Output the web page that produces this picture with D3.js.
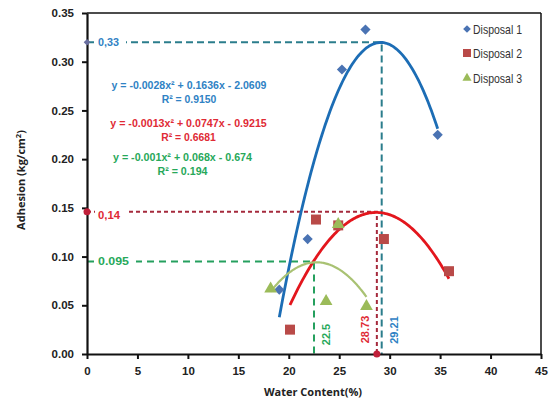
<!DOCTYPE html>
<html><head><meta charset="utf-8">
<script src="https://cdn.jsdelivr.net/npm/d3@7"></script>
<style>body{margin:0;background:#fff}</style>
</head><body><svg id="c" width="551" height="404"></svg>
<script>
const seriesNames = ["Disposal 1", "Disposal 2", "Disposal 3"];
const d1x = [19.06, 21.87, 25.27, 27.6, 34.76];
const d1y = [0.066, 0.118, 0.292, 0.333, 0.225];
const d2x = [20.12, 22.7, 24.9, 29.43, 35.88];
const d2y = [0.025, 0.138, 0.132, 0.118, 0.085];
const d3x = [18.2, 23.7, 24.9, 27.7];
const d3y = [0.067, 0.054, 0.133, 0.049];
const equations = ["y = -0.0028x² + 0.1636x - 2.0609", "y = -0.0013x² + 0.0747x - 0.9215", "y = -0.001x² + 0.068x - 0.674"];
const r2Labels = ["R² = 0.9150", "R² = 0.6681", "R² = 0.194"];
const peakX = [29.21, 28.73, 22.5];
const peakY = [0.32, 0.146, 0.095];
const peakYLabels = ["0,33", "0,14", "0.095"];
const peakXLabels = ["29.21", "28.73", "22.5"];
const xTicks = [0, 5, 10, 15, 20, 25, 30, 35, 40, 45];
const yTicks = [0, 0.05, 0.10, 0.15, 0.20, 0.25, 0.30, 0.35];

const svg = d3.select("#c");
const x = d3.scaleLinear().domain([0, 45]).range([87, 541]);
const y = d3.scaleLinear().domain([0, 0.35]).range([354, 13]);

const markerCol = ["#4a73b3", "#b94a48", "#9bbb59"];
const curveCol = ["#1c6db5", "#e3161d", "#a9c273"];
const dashCol = ["#2b7d8c", "#a52a3c", "#25a05e"];
const eqCol = ["#2f82c4", "#e02a35", "#27a85a"];

function fit2(xs, ys) {
  // least squares quadratic fit
  let S = [0,0,0,0,0], T = [0,0,0];
  xs.forEach((xv, i) => {
    for (let k = 0; k < 5; k++) S[k] += Math.pow(xv, k);
    for (let k = 0; k < 3; k++) T[k] += Math.pow(xv, k) * ys[i];
  });
  const A = [[S[0],S[1],S[2],T[0]],[S[1],S[2],S[3],T[1]],[S[2],S[3],S[4],T[2]]];
  for (let i = 0; i < 3; i++) {
    let p = i;
    for (let r = i+1; r < 3; r++) if (Math.abs(A[r][i]) > Math.abs(A[p][i])) p = r;
    [A[i], A[p]] = [A[p], A[i]];
    for (let r = 0; r < 3; r++) if (r !== i) {
      const f = A[r][i] / A[i][i];
      for (let c = i; c < 4; c++) A[r][c] -= f * A[i][c];
    }
  }
  return [A[0][3]/A[0][0], A[1][3]/A[1][1], A[2][3]/A[2][2]];
}

const data = [[d1x, d1y], [d2x, d2y], [d3x, d3y]];

// frame
svg.append("line").attr("x1", x(0)).attr("x2", x(45)).attr("y1", y(0.35)).attr("y2", y(0.35)).attr("stroke", "#111").attr("stroke-width", 1.5);
svg.append("line").attr("x1", x(45)).attr("x2", x(45)).attr("y1", y(0.35)).attr("y2", y(0)).attr("stroke", "#111").attr("stroke-width", 1.5);

// dashed guide lines
const dashes = ["7,4", "4,3", "7,5"];
peakX.forEach((px, i) => {
  svg.append("path")
    .attr("d", `M${x(0)},${y(peakY[i])}H${x(px)}V${y(0)}`)
    .attr("fill", "none").attr("stroke", dashCol[i]).attr("stroke-width", 2)
    .attr("stroke-dasharray", dashes[i]);
});

// axes
const gx = svg.append("g").attr("transform", `translate(0,${y(0)})`)
  .call(d3.axisBottom(x).tickValues(xTicks).tickSize(5).tickSizeOuter(0).tickPadding(8));
const gy = svg.append("g").attr("transform", `translate(${x(0)},0)`)
  .call(d3.axisLeft(y).tickValues(yTicks).tickFormat(d3.format(".2f")).tickSize(5).tickSizeOuter(0).tickPadding(8));
[gx, gy].forEach(g => {
  g.select(".domain").attr("stroke", "#111").attr("stroke-width", 2.2);
  g.selectAll(".tick line").attr("stroke", "#111").attr("stroke-width", 2);
  g.selectAll(".tick text").attr("fill", "#222").attr("font-family", "Liberation Sans, Arial, sans-serif")
    .attr("font-weight", "bold").attr("font-size", 11.5);
});

// trend curves
data.forEach(([xs, ys], i) => {
  const c = fit2(xs, ys);
  const lo = d3.min(xs), hi = d3.max(xs);
  const pts = d3.range(0, 101).map(k => { const xv = lo + (hi - lo) * k / 100; return [xv, c[0] + c[1]*xv + c[2]*xv*xv]; });
  svg.append("path").datum(pts)
    .attr("d", d3.line().x(d => x(d[0])).y(d => y(d[1])))
    .attr("fill", "none").attr("stroke", curveCol[i]).attr("stroke-width", i === 2 ? 2.2 : 2.8);
});

// markers (diamond = square rotated 45°)
const symTypes = [d3.symbolSquare, d3.symbolSquare, d3.symbolTriangle];
const symSizes = [52, 100, 70];
const symRot = [45, 0, 0];
data.forEach(([xs, ys], i) => {
  svg.append("g").selectAll("path").data(xs.map((xv, k) => [xv, ys[k]])).join("path")
    .attr("transform", d => `translate(${x(d[0])},${y(d[1])}) rotate(${symRot[i]})`)
    .attr("d", d3.symbol().type(symTypes[i]).size(symSizes[i]))
    .attr("fill", markerCol[i]);
});

// peak markers on axes
svg.append("path").attr("transform", `translate(${x(0)},${y(peakY[0])}) rotate(45)`)
  .attr("d", d3.symbol().type(d3.symbolSquare).size(22)).attr("fill", "#6a6fa0");
svg.append("circle").attr("cx", x(0)).attr("cy", y(peakY[1])).attr("r", 3.5).attr("fill", "#c0203a");
svg.append("circle").attr("cx", x(peakX[1])).attr("cy", y(0)).attr("r", 3.5).attr("fill", "#c0203a");

// y peak labels with white background
const yLabW = [21, 22, 31];
const yLabOff = [0, 3, 0];
peakYLabels.forEach((t, i) => {
  const yy = y(peakY[i]) + yLabOff[i];
  svg.append("rect").attr("x", x(0) + 8).attr("y", yy - 7).attr("width", yLabW[i] + 10).attr("height", 14).attr("fill", "#fff");
  svg.append("text").attr("x", x(0) + 11).attr("y", yy).attr("dy", "0.35em")
    .attr("font-family", "Liberation Sans, Arial, sans-serif").attr("font-weight", "bold").attr("font-size", 11)
    .attr("fill", eqCol[i]).attr("textLength", yLabW[i]).attr("lengthAdjust", "spacingAndGlyphs").text(t);
});

// x peak labels rotated
const xLabOff = [12.5, -12, 12.5];
const xLabCy = [330, 329.5, 334.5];
const xLabCol = ["#2f82c4", "#e02a35", "#27a85a"];
peakXLabels.forEach((t, i) => {
  svg.append("text").attr("transform", `translate(${x(peakX[i]) + xLabOff[i]},${xLabCy[i]}) rotate(-90)`)
    .attr("text-anchor", "middle").attr("dy", "0.35em")
    .attr("font-family", "Liberation Sans, Arial, sans-serif").attr("font-weight", "bold").attr("font-size", 11)
    .attr("fill", xLabCol[i]).text(t);
});

// equations
const eqCx = [189, 188.5, 182.5];
const eqCy = [85, 122.7, 156.7];
const eqW = [155, 156.5, 139];
const r2W = [54.5, 54.5, 50];
equations.forEach((t, i) => {
  svg.append("text").attr("x", eqCx[i]).attr("y", eqCy[i]).attr("dy", "0.35em").attr("text-anchor", "middle")
    .attr("font-family", "Liberation Sans, Arial, sans-serif").attr("font-weight", "bold").attr("font-size", 11)
    .attr("fill", eqCol[i]).attr("textLength", eqW[i]).attr("lengthAdjust", "spacingAndGlyphs").text(t);
  svg.append("text").attr("x", eqCx[i]).attr("y", eqCy[i] + 14.5).attr("dy", "0.35em").attr("text-anchor", "middle")
    .attr("font-family", "Liberation Sans, Arial, sans-serif").attr("font-weight", "bold").attr("font-size", 11)
    .attr("fill", eqCol[i]).attr("textLength", r2W[i]).attr("lengthAdjust", "spacingAndGlyphs").text(r2Labels[i]);
});

// legend
const legY = [29, 53, 78];
const legSym = [[d3.symbolSquare, 30, 45], [d3.symbolSquare, 64, 0], [d3.symbolTriangle, 36, 0]];
seriesNames.forEach((t, i) => {
  svg.append("path").attr("transform", `translate(467,${legY[i]}) rotate(${legSym[i][2]})`)
    .attr("d", d3.symbol().type(legSym[i][0]).size(legSym[i][1])).attr("fill", markerCol[i]);
  svg.append("text").attr("x", 473).attr("y", legY[i]).attr("dy", "0.35em")
    .attr("font-family", "Liberation Sans Narrow, Arial Narrow, Liberation Sans, sans-serif").attr("font-size", 13)
    .attr("fill", "#333").attr("textLength", 49).attr("lengthAdjust", "spacingAndGlyphs").text(t);
});

// axis titles
svg.append("text").attr("x", 313).attr("y", 392).attr("dy", "0.35em").attr("text-anchor", "middle")
  .attr("font-family", "Open Sans, sans-serif").attr("font-weight", "bold").attr("font-size", 11)
  .attr("fill", "#222").text("Water Content(%)");
const yt = svg.append("text").attr("transform", "translate(21,180) rotate(-90)").attr("dy", "0.35em").attr("text-anchor", "middle")
  .attr("font-family", "Open Sans, sans-serif").attr("font-weight", "bold").attr("font-size", 11).attr("fill", "#222");
yt.append("tspan").text("Adhesion (kg/cm");
yt.append("tspan").attr("font-size", 7.5).attr("dy", "-4").text("2");
yt.append("tspan").attr("dy", "4").text(")");
</script></body></html>
